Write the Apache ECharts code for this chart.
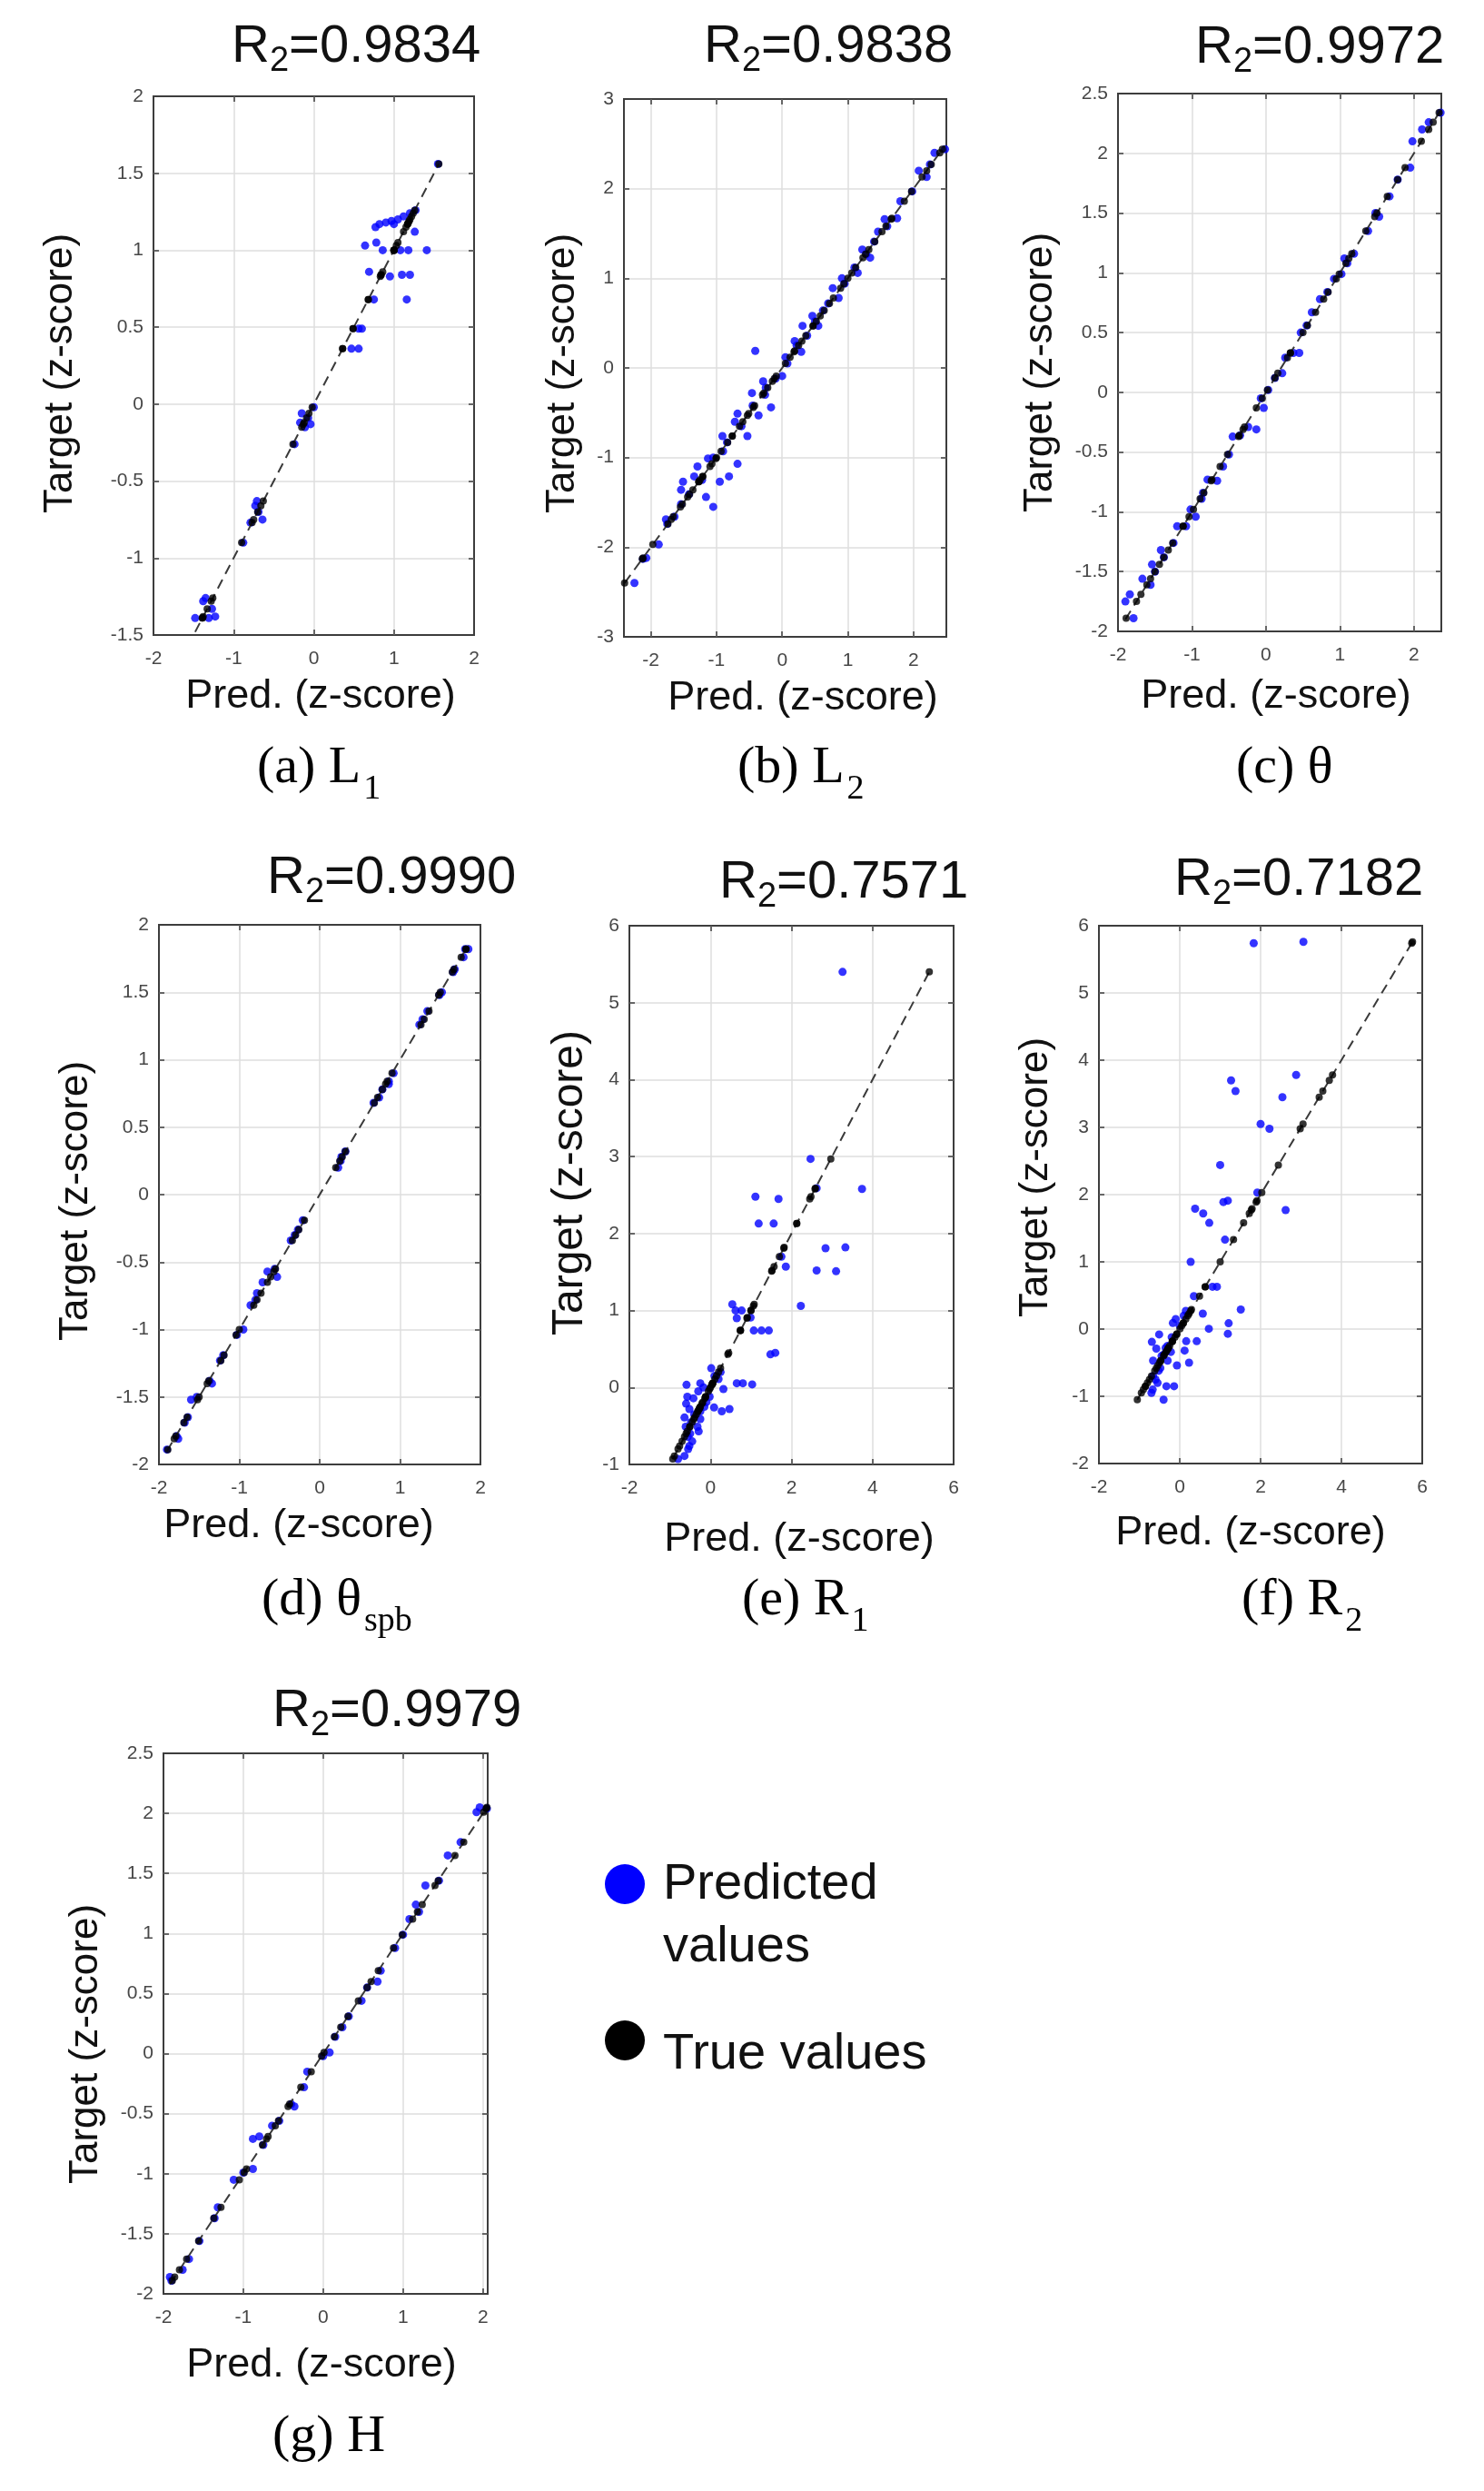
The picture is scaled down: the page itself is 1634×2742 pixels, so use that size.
<!DOCTYPE html>
<html>
<head>
<meta charset="utf-8">
<title>Pred vs Target (z-score)</title>
<script src="https://cdn.jsdelivr.net/npm/echarts@6/dist/echarts.min.js"></script>
<style>
  html, body { margin: 0; padding: 0; background: #fff; }
  #chart { width: 1634px; height: 2742px; }
</style>
</head>
<body>
<div id="chart"></div>
<script>
// target (true) values and predicted values, one pair per panel
const targetA = [1.56, 1.26, 1.24, 1.22, 1.20, 1.19, 1.18, 1.17, 1.17, 1.15, 1.12, 1.05, 1.03, 1.00, 1.00, 1.00, 1.00, 0.86, 0.84, 0.84, 0.83, 0.68, 0.68, 0.49, 0.49, 0.36, 0.36, -0.02, -0.06, -0.09, -0.12, -0.13, -0.15, -0.26, -0.63, -0.66, -0.70, -0.75, -0.77, -0.90, -1.26, -1.28, -1.33, -1.38, -1.39, -1.39];
const predA = [1.55, 1.27, 1.20, 1.12, 1.05, 0.97, 0.90, 0.82, 1.00, 0.77, 1.26, 0.78, 0.64, 0.86, 1.08, 1.18, 1.41, 0.69, 1.10, 1.20, 0.95, 0.75, 1.16, 0.56, 0.60, 0.47, 0.56, 0.00, -0.15, -0.07, -0.17, -0.04, -0.11, -0.24, -0.71, -0.73, -0.69, -0.64, -0.79, -0.88, -1.35, -1.38, -1.27, -1.23, -1.31, -1.48];

const targetB = [-2.40, -2.12, -2.13, -1.97, -1.69, -1.66, -1.52, -1.27, -1.36, -1.21, -1.10, -1.44, -1.01, -1.55, -1.27, -1.21, -1.07, -0.76, -0.60, -0.51, -0.76, -0.28, 0.19, -0.53, -0.15, -0.30, -0.44, -0.09, 0.12, 0.30, 0.18, 0.47, 0.58, 0.47, 0.64, 0.89, 0.78, 1.00, 1.06, 1.32, 1.23, 1.52, 1.66, 1.67, 1.86, 2.20, 2.13, 2.40, 2.44, -1.41, -1.25, -1.00, -0.93, -0.83, -0.65, -0.42, -0.12, 0.05, 0.25, 0.36, 0.72, 0.94, 1.12, 1.41, 1.58, 1.97, 2.27, -1.74, -0.22, 0.52, 1.27];
const predB = [-2.25, -2.07, -2.12, -1.88, -1.77, -1.64, -1.54, -1.51, -1.54, -1.34, -1.29, -1.16, -1.13, -1.05, -0.95, -0.81, -0.68, -0.91, -0.72, -0.68, -0.53, -0.46, -0.41, -0.36, -0.29, -0.26, -0.17, 0.00, 0.05, 0.19, 0.29, 0.31, 0.46, 0.55, 0.62, 0.77, 0.86, 0.91, 1.15, 1.22, 1.34, 1.46, 1.56, 1.75, 1.80, 2.08, 2.20, 2.32, 2.48, -1.42, -1.22, -1.05, -0.90, -0.84, -0.62, -0.45, -0.10, 0.08, 0.22, 0.38, 0.70, 0.95, 1.10, 1.40, 1.60, 1.98, 2.25, -1.75, -0.25, 0.50, 1.28];

const targetC = [-1.75, -1.69, -1.89, -1.56, -1.61, -1.44, -1.32, -1.26, -1.12, -1.12, -0.98, -1.04, -0.89, -0.73, -0.74, -0.62, -0.37, -0.29, -0.31, -0.05, -0.13, 0.12, 0.16, 0.29, 0.33, 0.33, 0.50, 0.67, 0.78, 0.95, 0.99, 1.12, 1.16, 1.35, 1.50, 1.47, 1.64, 1.88, 2.10, 2.20, 2.34, 2.26, 1.78, 1.08, 0.84, 0.56, 0.02, -0.36, -0.52, -0.84, -1.38, -1.50];
const predC = [-1.90, -1.84, -1.79, -1.67, -1.56, -1.54, -1.42, -1.25, -1.20, -1.08, -1.02, -0.95, -0.87, -0.79, -0.66, -0.58, -0.45, -0.24, -0.13, -0.07, -0.03, 0.12, 0.22, 0.26, 0.37, 0.45, 0.47, 0.62, 0.73, 0.92, 1.02, 1.06, 1.19, 1.38, 1.48, 1.53, 1.67, 1.95, 1.98, 2.11, 2.36, 2.20, 1.78, 1.10, 0.83, 0.55, 0.03, -0.35, -0.50, -0.85, -1.38, -1.50];

const targetD = [-1.89, -1.81, -1.79, -1.69, -1.65, -1.52, -1.50, -1.40, -1.38, -1.23, -1.19, -1.04, -1.00, -0.82, -0.78, -0.73, -0.65, -0.61, -0.57, -0.55, -0.34, -0.30, -0.26, -0.19, 0.20, 0.25, 0.28, 0.32, 0.68, 0.72, 0.78, 0.82, 0.84, 0.90, 1.26, 1.30, 1.36, 1.48, 1.50, 1.65, 1.67, 1.76, 1.82, 1.82];
const predD = [-1.90, -1.76, -1.78, -1.68, -1.64, -1.60, -1.53, -1.34, -1.37, -1.24, -1.20, -1.03, -0.95, -0.86, -0.80, -0.78, -0.71, -0.53, -0.65, -0.56, -0.36, -0.31, -0.27, -0.21, 0.23, 0.26, 0.27, 0.32, 0.67, 0.74, 0.78, 0.86, 0.86, 0.92, 1.24, 1.28, 1.34, 1.49, 1.52, 1.66, 1.68, 1.79, 1.81, 1.85];

const targetE = [5.40, 2.97, 2.48, 2.45, 2.59, 2.58, 2.13, 2.13, 1.81, 1.82, 1.70, 1.57, 1.52, 1.51, 1.06, 1.08, 1.00, 0.90, 1.00, 0.91, 0.74, 0.74, 0.74, 0.43, 0.45, 0.25, 0.055, 0.055, 0.04, 0.035, 0.055, 0.11, -0.02, -0.26, -0.31, -0.28, -0.12, -0.14, -0.21, -0.28, -0.39, -0.41, -0.51, -0.51, -0.57, -0.64, -0.76, -0.89, -0.31, -0.19, -0.12, 0.00, -0.93, -0.80, -0.70, -0.45, -0.35, -0.05, 0.15, 0.20, -0.60, -0.25];
const predE = [3.26, 2.47, 1.11, 1.68, 2.62, 3.74, 1.19, 1.56, 2.84, 3.33, 1.75, 1.86, 2.62, 3.10, 2.23, 0.54, 0.62, 0.65, 0.77, 0.99, 1.07, 1.26, 1.44, 1.48, 1.60, 0.02, 0.65, 0.80, 1.03, -0.59, -0.25, 0.20, 0.32, 0.09, 0.28, 0.47, -0.57, -0.42, -0.60, -0.52, -0.64, -0.25, -0.32, -0.61, -0.29, -0.56, -0.52, -0.64, -0.25, -0.10, -0.02, -0.17, -0.80, -0.55, -0.45, -0.48, -0.40, -0.30, 0.10, 0.25, -0.50, -0.15];

const targetF = [5.74, 5.76, 3.70, 3.54, 3.78, 3.45, 3.05, 2.98, 2.44, 1.89, 1.91, 1.79, 1.72, 1.58, 1.77, 2.03, 1.33, 1.00, 0.49, 0.63, 0.63, 0.29, 0.23, 0.15, 0.087, -0.07, 0.005, -0.18, -0.18, -0.32, -0.50, -0.54, -0.85, -0.85, -1.05, -0.90, -0.19, -0.08, -0.29, -0.25, -0.38, -0.47, -0.47, -0.58, -0.70, -0.34, 0.09, -0.95, -0.80, -0.62, -0.40, -0.12, 0.05, 0.20, 0.27, -0.75, -0.28];
const predF = [1.83, 3.06, 1.27, 1.38, 2.88, 2.54, 2.00, 2.22, 1.00, 1.08, 1.19, 0.38, 0.58, 0.73, 2.62, 1.92, 1.12, 0.27, 0.35, 0.81, 0.92, 1.51, 0.57, -0.10, 1.21, 1.19, 0.72, 0.16, 0.42, 0.12, 0.23, -0.07, -0.14, -0.33, -0.40, -0.67, -0.69, -0.51, -0.58, -0.30, -0.40, -0.66, -0.30, -0.48, -0.66, -0.22, -0.17, -0.70, -0.55, -0.52, -0.45, -0.20, 0.00, 0.10, 0.15, -0.60, -0.35];

const targetG = [-1.86, -1.80, -1.71, -1.37, -1.28, -1.05, -0.96, -0.71, -0.69, -0.60, -0.42, -0.44, -0.28, -0.15, 0.01, 0.22, 0.31, 0.44, 0.60, 0.69, 0.99, 1.12, 1.24, 1.40, 1.65, 1.76, 2.01, 2.05, -1.89, -1.56, -0.99, -0.56, -0.02, 0.88, 1.44, 2.04, 0.14, -0.76, 1.18, 0.55];
const predG = [-1.92, -1.76, -1.68, -1.36, -1.32, -1.12, -0.88, -0.88, -0.80, -0.64, -0.40, -0.36, -0.24, -0.20, 0.08, 0.24, 0.32, 0.48, 0.68, 0.72, 1.00, 1.08, 1.16, 1.28, 1.56, 1.72, 1.92, 1.96, -1.90, -1.55, -1.00, -0.55, 0.00, 0.90, 1.45, 2.05, 0.15, -0.75, 1.20, 0.55];

// tick labels of each axis
const xTicksA = [-2, -1, 0, 1, 2];
const yTicksA = [-1.5, -1, -0.5, 0, 0.5, 1, 1.5, 2];
const xTicksB = [-2, -1, 0, 1, 2];
const yTicksB = [-3, -2, -1, 0, 1, 2, 3];
const xTicksC = [-2, -1, 0, 1, 2];
const yTicksC = [-2, -1.5, -1, -0.5, 0, 0.5, 1, 1.5, 2, 2.5];
const xTicksD = [-2, -1, 0, 1, 2];
const yTicksD = [-2, -1.5, -1, -0.5, 0, 0.5, 1, 1.5, 2];
const xTicksE = [-2, 0, 2, 4, 6];
const yTicksE = [-1, 0, 1, 2, 3, 4, 5, 6];
const xTicksF = [-2, 0, 2, 4, 6];
const yTicksF = [-2, -1, 0, 1, 2, 3, 4, 5, 6];
const xTicksG = [-2, -1, 0, 1, 2];
const yTicksG = [-2, -1.5, -1, -0.5, 0, 0.5, 1, 1.5, 2, 2.5];

// R2 scores shown above each panel
const scores = ['0.9834', '0.9838', '0.9972', '0.9990', '0.7571', '0.7182', '0.9979'];

const SANS = "'Liberation Sans', Arial, sans-serif";
const SERIF = "'Liberation Serif', 'Times New Roman', serif";

// layout of each panel: grid box, text anchors
const panels = [
  { t: targetA, p: predA, xt: xTicksA, yt: yTicksA, grid: [169, 106, 353, 593],
    title: [255, 52], yName: [67, 411, 44], xName: [353, 767], cap: ['(a) L', '1', 283, 846] },
  { t: targetB, p: predB, xt: xTicksB, yt: yTicksB, xLim: [-2.41, 2.5], grid: [687, 109, 355, 592],
    title: [775, 52], yName: [620, 411, 44], xName: [884, 769], cap: ['(b) L', '2', 812, 846] },
  { t: targetC, p: predC, xt: xTicksC, yt: yTicksC, xLim: [-2, 2.37], grid: [1231, 103, 356, 592],
    title: [1316, 53], yName: [1146, 410, 44], xName: [1405, 767], cap: ['(c) θ', '', 1361, 846] },
  { t: targetD, p: predD, xt: xTicksD, yt: yTicksD, grid: [175, 1018, 354, 594],
    title: [294, 967], yName: [84, 1322, 44], xName: [329, 1680], cap: ['(d) θ', 'spb', 288, 1762] },
  { t: targetE, p: predE, xt: xTicksE, yt: yTicksE, grid: [693, 1019, 357, 593],
    title: [792, 972], yName: [628, 1302, 48], xName: [880, 1695], cap: ['(e) R', '1', 817, 1762] },
  { t: targetF, p: predF, xt: xTicksF, yt: yTicksF, grid: [1210, 1019, 356, 592],
    title: [1293, 969], yName: [1141, 1296, 44], xName: [1377, 1688], cap: ['(f) R', '2', 1367, 1762] },
  { t: targetG, p: predG, xt: xTicksG, yt: yTicksG, xLim: [-2, 2.06], grid: [180, 1930, 357, 595],
    title: [300, 1884], yName: [95, 2250, 44], xName: [354, 2604], cap: ['(g) H', '', 300, 2683] }
];

function valueAxis(gridIndex, position, range, ticks, main) {
  const step = ticks[1] - ticks[0];
  const ax = {
    type: 'value',
    gridIndex: gridIndex,
    position: position,
    min: range[0],
    max: range[1],
    axisLine: { show: false, onZero: false },
    axisTick: { show: true, inside: true, length: 6, lineStyle: { color: '#3d3d3d', width: 1.5 } },
    axisLabel: { show: false },
    splitLine: { show: false }
  };
  if (main) {
    ax.axisLabel = {
      show: true,
      margin: (position === 'bottom') ? 16 : 11,
      color: '#474747',
      fontSize: 21,
      fontFamily: SANS,
      showMinLabel: true,
      showMaxLabel: true,
      formatter: function (v) {
        const hit = ticks.find(function (t) { return Math.abs(t - v) < 1e-6; });
        return hit === undefined ? '' : String(hit);
      }
    };
    ax.splitLine = { show: true, showMinLine: false, showMaxLine: false, lineStyle: { color: '#dedede', width: 1.5 } };
  }
  // ticks are counted from min, so only fix the interval when min sits on it
  if (Math.abs(range[0] / step - Math.round(range[0] / step)) < 1e-9) {
    ax.interval = step;
  } else {
    ax.splitNumber = ticks.length - 1;
  }
  return ax;
}

const grids = [], xAxes = [], yAxes = [], series = [], graphics = [];

panels.forEach(function (pn, i) {
  grids.push({
    left: pn.grid[0], top: pn.grid[1], width: pn.grid[2], height: pn.grid[3],
    show: true, borderColor: '#3d3d3d', borderWidth: 2, backgroundColor: '#fff',
    containLabel: false, outerBoundsMode: 'none'
  });
  const xr = pn.xLim || [pn.xt[0], pn.xt[pn.xt.length - 1]];
  const yr = pn.yLim || [pn.yt[0], pn.yt[pn.yt.length - 1]];
  xAxes.push(valueAxis(i, 'bottom', xr, pn.xt, true));
  xAxes.push(valueAxis(i, 'top', xr, pn.xt, false));
  yAxes.push(valueAxis(i, 'left', yr, pn.yt, true));
  yAxes.push(valueAxis(i, 'right', yr, pn.yt, false));

  const n = Math.min(pn.t.length, pn.p.length);
  const predPts = [], truePts = [];
  for (let k = 0; k < n; k++) {
    predPts.push([pn.p[k], pn.t[k]]);
    truePts.push([pn.t[k], pn.t[k]]);
  }
  const all = pn.t.concat(pn.p);
  const lo = Math.min.apply(null, all), hi = Math.max.apply(null, all);

  series.push({
    type: 'scatter', name: 'Predicted values', xAxisIndex: 2 * i, yAxisIndex: 2 * i,
    data: predPts, symbolSize: 9, itemStyle: { color: '#0000ff' }, z: 2, silent: true
  });
  series.push({
    type: 'line', name: 'y = x', xAxisIndex: 2 * i, yAxisIndex: 2 * i,
    data: [[lo, lo], [hi, hi]], symbol: 'none', silent: true, z: 3,
    lineStyle: { color: '#3a3a3a', width: 2, type: [11, 7] }
  });
  series.push({
    type: 'scatter', name: 'True values', xAxisIndex: 2 * i, yAxisIndex: 2 * i,
    data: truePts, symbolSize: 8, itemStyle: { color: '#000' }, z: 4, silent: true
  });

  // R2 title with subscript
  graphics.push({
    type: 'text', x: pn.title[0], y: pn.title[1],
    style: {
      text: '{m|R}{s|2}{m|=' + scores[i] + '}',
      align: 'left', verticalAlign: 'middle',
      rich: {
        m: { fontSize: 58, fontFamily: SANS, fill: '#111' },
        s: { fontSize: 38, fontFamily: SANS, fill: '#111', padding: [32, 0, 0, 0] }
      }
    }
  });
  // axis names
  graphics.push({
    type: 'text', x: pn.yName[0], y: pn.yName[1], rotation: Math.PI / 2,
    style: { text: 'Target (z-score)', fontSize: pn.yName[2], fontFamily: SANS, fill: '#111', align: 'center', verticalAlign: 'middle' }
  });
  graphics.push({
    type: 'text', x: pn.xName[0], y: pn.xName[1],
    style: { text: 'Pred. (z-score)', fontSize: 45, fontFamily: SANS, fill: '#111', align: 'center', verticalAlign: 'middle' }
  });
  // caption below the panel
  const capText = pn.cap[1] ? '{m|' + pn.cap[0] + '}{s|' + pn.cap[1] + '}' : '{m|' + pn.cap[0] + '}';
  graphics.push({
    type: 'text', x: pn.cap[2], y: pn.cap[3],
    style: {
      text: capText, align: 'left', verticalAlign: 'middle',
      rich: {
        m: { fontSize: 58, fontFamily: SERIF, fill: '#000' },
        s: { fontSize: 38, fontFamily: SERIF, fill: '#000', padding: [46, 0, 0, 3] }
      }
    }
  });
});

// legend next to panel (g)
graphics.push({ type: 'circle', shape: { cx: 688, cy: 2074, r: 22 }, style: { fill: '#0000ff' } });
graphics.push({ type: 'text', x: 730, y: 2075, style: { text: 'Predicted', fontSize: 56, fontFamily: SANS, fill: '#111', align: 'left', verticalAlign: 'middle' } });
graphics.push({ type: 'text', x: 730, y: 2144, style: { text: 'values', fontSize: 56, fontFamily: SANS, fill: '#111', align: 'left', verticalAlign: 'middle' } });
graphics.push({ type: 'circle', shape: { cx: 688, cy: 2246, r: 22 }, style: { fill: '#000' } });
graphics.push({ type: 'text', x: 730, y: 2262, style: { text: 'True values', fontSize: 56, fontFamily: SANS, fill: '#111', align: 'left', verticalAlign: 'middle' } });

const chart = echarts.init(document.getElementById('chart'), null, { renderer: 'canvas' });
chart.setOption({
  backgroundColor: '#fff',
  animation: false,
  grid: grids,
  xAxis: xAxes,
  yAxis: yAxes,
  series: series,
  graphic: graphics
});
</script>
</body>
</html>
